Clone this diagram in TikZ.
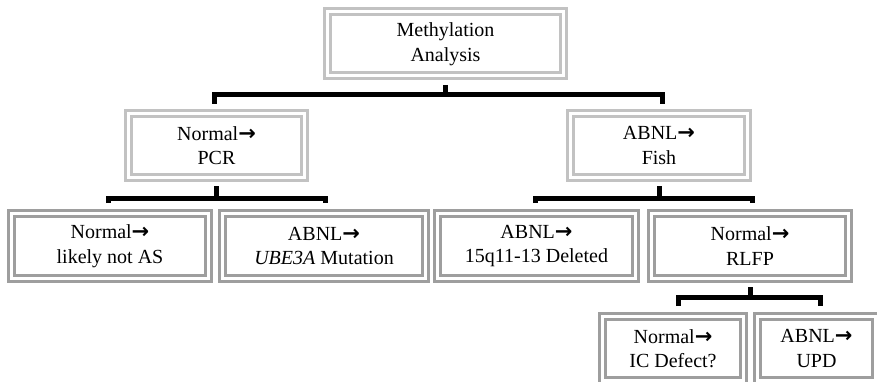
\documentclass[tikz,border=0pt]{standalone}
\usepackage{fontspec}
\setmainfont{Liberation Serif}
\newfontfamily\arrowfont{DejaVu Sans}
\definecolor{lightbox}{HTML}{C2C2C2}
\definecolor{darkbox}{HTML}{9E9E9E}
\newcommand{\arr}{{\arrowfont\bfseries\fontsize{21}{24}\selectfont →}}
\tikzset{
  dbox/.style={draw=#1, line width=3pt, double=white, double distance=3pt,
    fill=white, inner sep=0pt, outer sep=0pt, align=center,
    font=\fontsize{20}{24.5}\selectfont},
  bracket/.style={draw=black, line width=5pt, line join=miter}
}
\begin{document}
\begin{tikzpicture}[x=1pt,y=-1pt]
\useasboundingbox (0,0) rectangle (877,382);
% level 0
\node[dbox=lightbox, minimum width=236pt, minimum height=64pt] (n0) at (445.5,44) {Methylation\\Analysis};
% level 1
\node[dbox=lightbox, minimum width=176pt, minimum height=64pt] (n1) at (216.5,145.5) {Normal\arr\\PCR};
\node[dbox=lightbox, minimum width=177pt, minimum height=64pt] (n2) at (659,145.5) {ABNL\arr\\Fish};
% level 2
\node[dbox=darkbox, minimum width=197pt, minimum height=65pt] (n3) at (110,246) {Normal\arr\\likely not AS};
\node[dbox=darkbox, minimum width=203pt, minimum height=65pt] (n4) at (324,246) {ABNL\arr\\\textit{UBE3A} Mutation};
\node[dbox=darkbox, minimum width=198pt, minimum height=65pt] (n5) at (536.5,246) {ABNL\arr\\15q11-13 Deleted};
\node[dbox=darkbox, minimum width=197pt, minimum height=65pt] (n6) at (750,246) {Normal\arr\\RLFP};
% level 3
\node[dbox=darkbox, minimum width=141pt, minimum height=64pt] (n7) at (673,348.5) {Normal\arr\\IC Defect?};
\node[dbox=darkbox, minimum width=118pt, minimum height=64pt] (n8) at (816.5,348.5) {ABNL\arr\\UPD};
% brackets
\draw[bracket] (n0.south |- 0,85) -- (n0.south |- 0,95);
\draw[bracket] (214,104) -- (214,95) -- (662,95) -- (662,104);
\draw[bracket] (n1.south |- 0,186) -- (n1.south |- 0,198);
\draw[bracket] (108,203) -- (108,198) -- (325,198) -- (325,203);
\draw[bracket] (n2.south |- 0,186) -- (n2.south |- 0,198);
\draw[bracket] (535,203) -- (535,198) -- (752,198) -- (752,203);
\draw[bracket] (n6.south |- 0,287) -- (n6.south |- 0,297);
\draw[bracket] (678,306) -- (678,297) -- (820,297) -- (820,306);
\end{tikzpicture}
\end{document}
